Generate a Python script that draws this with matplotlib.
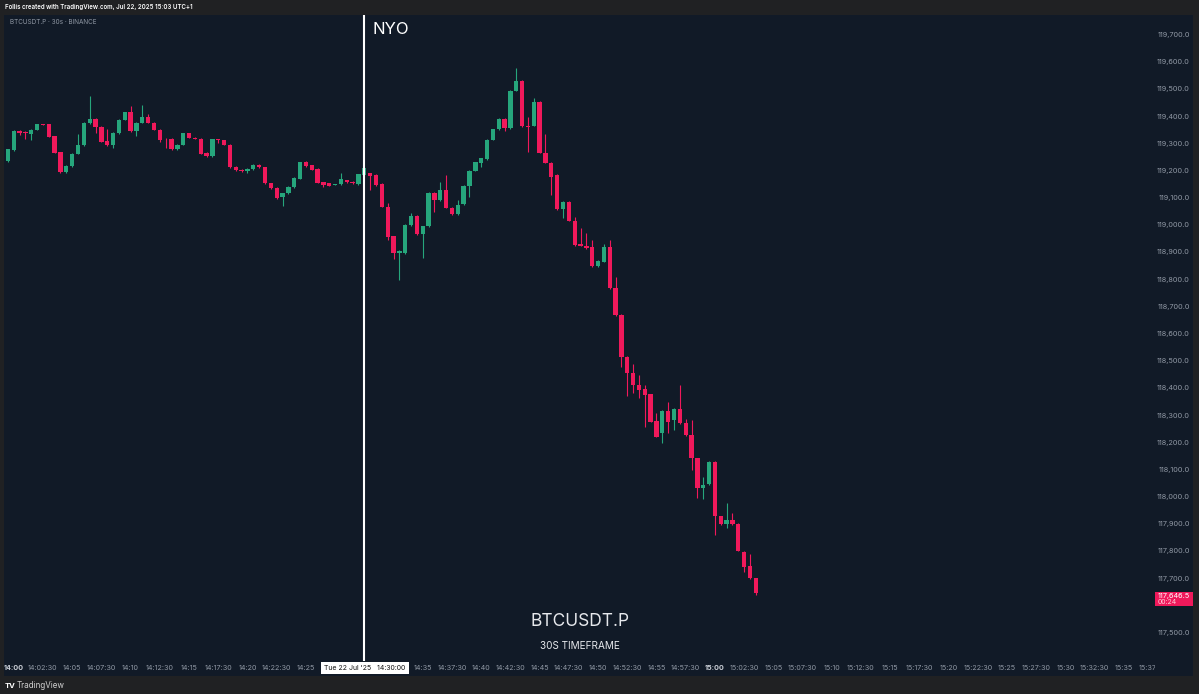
import matplotlib
matplotlib.use("Agg")
import matplotlib.pyplot as plt
from matplotlib.patches import Rectangle

plt.rcParams['font.family'] = ['Inter', 'DejaVu Sans']

# ---------------- data (30s candles, index 0 = 13:59:30) ----------------
opens = [119236, 119276, 119348, 119343, 119335, 119352, 119372, 119372, 119328, 119269,
         119196, 119218, 119264, 119295, 119375, 119392, 119362, 119311, 119295, 119338,
         119389, 119416, 119346, 119377, 119399, 119377, 119352, 119318, 119318, 119280,
         119297, 119338, 119322, 119318, 119267, 119254, 119316, 119313, 119297, 119215,
         119205, 119198, 119206, 119223, 119213, 119154, 119138, 119103, 119117, 119139,
         119172, 119232, 119220, 119208, 119158, 119154, 119149, 119151, 119166, 119160,
         119151, 119186, 119192, 119185, 119152, 119068, 118960, 118899, 118897, 119001,
         119035, 118967, 118997, 119120, 119093, 119130, 119065, 119041, 119078, 119144,
         119200, 119230, 119242, 119314, 119353, 119392, 119357, 119495, 119532, 119366,
         119366, 119455, 119267, 119230, 119185, 119059, 119087, 119017, 118931, 118924,
         118919, 118850, 118866, 118921, 118768, 118670, 118516, 118457, 118413, 118396,
         118379, 118280, 118234, 118318, 118284, 118324, 118271, 118228, 118142, 118032,
         118048, 118130, 117930, 117901, 117916, 117901, 117799, 117746, 117701]
highs = [119282, 119350, 119352, 119346, 119354, 119373, 119374, 119374, 119330, 119271,
         119220, 119266, 119334, 119379, 119475, 119394, 119364, 119356, 119342, 119391,
         119417, 119438, 119380, 119442, 119408, 119379, 119354, 119320, 119320, 119299,
         119340, 119340, 119324, 119320, 119269, 119318, 119318, 119315, 119299, 119217,
         119207, 119210, 119225, 119225, 119215, 119156, 119142, 119119, 119144, 119177,
         119234, 119236, 119222, 119210, 119160, 119156, 119153, 119193, 119168, 119162,
         119189, 119212, 119194, 119187, 119154, 119081, 118962, 118908, 119003, 119044,
         119037, 118999, 119122, 119122, 119160, 119185, 119067, 119093, 119150, 119202,
         119233, 119248, 119316, 119355, 119394, 119394, 119497, 119577, 119534, 119400,
         119467, 119457, 119336, 119232, 119187, 119089, 119089, 119030, 118989, 118970,
         118945, 118872, 118931, 118945, 118810, 118672, 118518, 118489, 118449, 118412,
         118381, 118308, 118320, 118351, 118326, 118412, 118286, 118283, 118144, 118075,
         118132, 118132, 117932, 117977, 117943, 117905, 117801, 117792, 117703]
lows = [119232, 119272, 119332, 119319, 119313, 119350, 119369, 119325, 119265, 119194,
        119194, 119216, 119262, 119293, 119373, 119338, 119305, 119293, 119285, 119336,
        119387, 119344, 119328, 119375, 119375, 119350, 119305, 119284, 119277, 119278,
        119295, 119320, 119316, 119262, 119252, 119252, 119301, 119295, 119211, 119201,
        119196, 119191, 119204, 119211, 119152, 119134, 119096, 119070, 119115, 119137,
        119170, 119216, 119203, 119154, 119142, 119144, 119147, 119149, 119157, 119152,
        119149, 119184, 119130, 119146, 119066, 118946, 118876, 118799, 118895, 118999,
        118965, 118878, 118995, 119050, 119091, 119063, 119038, 119039, 119076, 119105,
        119198, 119213, 119240, 119312, 119351, 119347, 119355, 119493, 119363, 119271,
        119364, 119265, 119228, 119111, 119057, 119025, 119015, 118925, 118922, 118913,
        118848, 118846, 118864, 118766, 118668, 118480, 118372, 118382, 118363, 118259,
        118275, 118220, 118198, 118234, 118247, 118269, 118226, 118100, 117995, 117992,
        118046, 117860, 117899, 117885, 117899, 117801, 117725, 117699, 117638]
closes = [119279, 119348, 119340, 119338, 119352, 119371, 119370, 119326, 119267, 119196,
          119218, 119264, 119297, 119377, 119392, 119362, 119307, 119295, 119340, 119389,
          119415, 119346, 119378, 119397, 119377, 119352, 119313, 119316, 119279, 119297,
          119338, 119322, 119318, 119264, 119254, 119316, 119313, 119297, 119213, 119203,
          119198, 119208, 119223, 119213, 119154, 119136, 119101, 119117, 119142, 119175,
          119232, 119218, 119205, 119156, 119149, 119146, 119151, 119170, 119159, 119154,
          119187, 119209, 119183, 119148, 119068, 118958, 118897, 118906, 119001, 119035,
          118967, 118997, 119120, 119093, 119130, 119065, 119040, 119074, 119146, 119200,
          119231, 119246, 119314, 119353, 119392, 119357, 119495, 119532, 119366, 119362,
          119455, 119267, 119230, 119179, 119059, 119087, 119017, 118927, 118924, 118915,
          118850, 118868, 118921, 118768, 118670, 118514, 118455, 118411, 118394, 118377,
          118277, 118222, 118318, 118277, 118324, 118271, 118228, 118142, 118032, 118044,
          118130, 117930, 117901, 117916, 117901, 117803, 117744, 117701, 117646.5]

# labels under the white date box (14:27:30, 14:30, 14:32:30) are hidden in the reference
time_labels = ["14:00", "14:02:30", "14:05", "14:07:30", "14:10", "14:12:30", "14:15", "14:17:30",
               "14:20", "14:22:30", "14:25", "", "", "", "14:35", "14:37:30",
               "14:40", "14:42:30", "14:45", "14:47:30", "14:50", "14:52:30", "14:55", "14:57:30",
               "15:00", "15:02:30", "15:05", "15:07:30", "15:10", "15:12:30", "15:15", "15:17:30",
               "15:20", "15:22:30", "15:25", "15:27:30", "15:30", "15:32:30", "15:35", "15:37:30"]
# 117,600.0 lies under the last-price badge in the reference
price_ticks = [117500, 117700, 117800, 117900, 118000, 118100, 118200, 118300, 118400,
               118500, 118600, 118700, 118800, 118900, 119000, 119100, 119200, 119300, 119400,
               119500, 119600, 119700]
nyo_index = 61          # 14:30:00 candle
last_price = 117646.5
countdown = "00:24"

# ---------------- style ----------------
W, H = 1199, 694
BG_OUT = '#202123'
NAVY = '#111a27'
UP = '#26a67c'
DOWN = '#f0195b'
TXT = '#9098a4'

def fx(px):
    return px / W

def fy(py):
    return 1 - py / H

fig = plt.figure(figsize=(W / 100, H / 100), dpi=100, facecolor=BG_OUT)
fig.patches.append(Rectangle((fx(4), fy(676)), fx(1193) - fx(4), fy(15) - fy(676),
                             transform=fig.transFigure, facecolor=NAVY, edgecolor='none', zorder=-5))

# price <-> pixel mapping: 27.18 px per 100 USD, 119,700 at y=35
ppx = 2200 / (633 - 35)

def price_at(py):
    return 119700 - (py - 35) * ppx

# candle index <-> pixel mapping
cpx = 5.843
x0px = 7.9

def idx_at(px):
    return (px - x0px) / cpx

ax = fig.add_axes([fx(4), fy(661), fx(1155) - fx(4), fy(15) - fy(661)], zorder=1)
ax.set_facecolor(NAVY)
ax.set_xlim(idx_at(4), idx_at(1155))
ax.set_ylim(price_at(661), price_at(15))
for s in ax.spines.values():
    s.set_visible(False)
ax.set_yticks([])

bw = 0.74
for i, (o, h, l, c) in enumerate(zip(opens, highs, lows, closes)):
    col = UP if c >= o else DOWN
    ax.vlines(i, l, h, color=col, lw=0.8, zorder=2)
    lo, hi = min(o, c), max(o, c)
    if hi - lo < 2:
        hi = lo + 2
    ax.add_patch(Rectangle((i - bw / 2, lo), bw, hi - lo, facecolor=col, edgecolor='none', zorder=3))

# time axis
tpos = [1 + 5 * k for k in range(len(time_labels))]
ax.set_xticks(tpos)
ax.set_xticklabels(time_labels)
ax.tick_params(axis='x', length=0, pad=2.6, labelsize=5.2, labelcolor=TXT)
for lab in ax.get_xticklabels():
    if lab.get_text() in ("14:00", "15:00"):
        lab.set_fontweight('bold')
        lab.set_color('#c8ccd4')

# NYO line
ax.axvline(nyo_index, color='white', lw=1.5, zorder=4)
fig.text(fx(373), fy(29), "NYO", color='white', fontsize=12, va='center', ha='left')

# price scale
ax2 = fig.add_axes([fx(1155), fy(676), fx(1193) - fx(1155), fy(15) - fy(676)], zorder=5)
ax2.set_facecolor(NAVY)
ax2.set_xlim(0, 1)
ax2.set_ylim(price_at(676), price_at(15))
ax2.set_xticks([])
ax2.set_yticks([])
for s in ax2.spines.values():
    s.set_visible(False)
for p in price_ticks:
    ax2.text(0.92, p, f"{p:,.1f}", ha='right', va='center', fontsize=5.3, color=TXT)
ax2.add_patch(Rectangle((0, price_at(606)), 1, price_at(592) - price_at(606),
                        facecolor=DOWN, edgecolor='none', zorder=4))
ax2.text(0.08, price_at(596), f"{last_price:,.1f}", ha='left', va='center', fontsize=5.3,
         color='white', zorder=5)
ax2.text(0.08, price_at(602.5), countdown, ha='left', va='center', fontsize=5.0,
         color='#ffd0da', zorder=5)

# date box under NYO line
fig.text(fx(365), fy(668), "Tue 22 Jul '25   14:30:00", ha='center', va='center', fontsize=5.0,
         color='#111111', zorder=10,
         bbox=dict(boxstyle='square,pad=0.45', facecolor='white', edgecolor='none'))

# header / footer texts
fig.text(fx(5), fy(7.5), "Follis created with TradingView.com, Jul 22, 2025 15:03 UTC+1",
         ha='left', va='center', fontsize=4.4, color='white', fontweight='semibold')
fig.text(fx(10), fy(22), "BTCUSDT.P · 30s · BINANCE", ha='left', va='center', fontsize=4.6,
         color=TXT)
fig.text(fx(580), fy(622), "BTCUSDT.P", ha='center', va='center', fontsize=12.5, color='#e6e8ec')
fig.text(fx(580), fy(646), "30S TIMEFRAME", ha='center', va='center', fontsize=7.2, color='#e6e8ec')
fig.text(fx(5), fy(686), "TV", ha='left', va='center', fontsize=5.5, color='white', fontweight='bold')
fig.text(fx(17), fy(686), "TradingView", ha='left', va='center', fontsize=5.8, color='#d0d0d0')

fig.savefig("out.png", dpi=100, facecolor=BG_OUT)
